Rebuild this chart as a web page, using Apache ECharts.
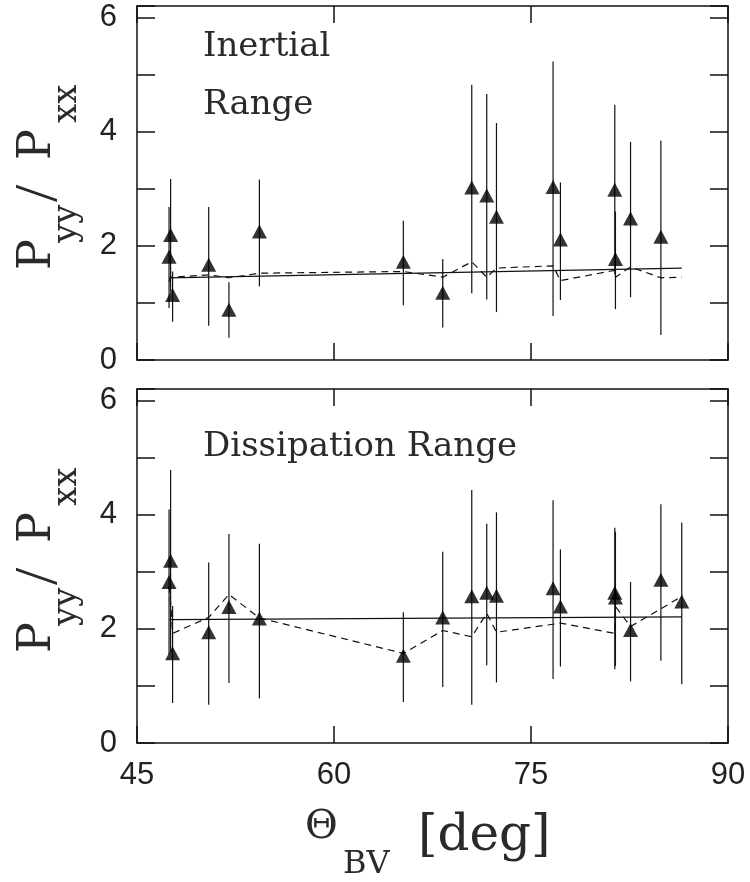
<!DOCTYPE html>
<html>
<head>
<meta charset="utf-8">
<script src="https://cdn.jsdelivr.net/npm/echarts@6/dist/echarts.min.js"></script>
<style>
  html, body { margin: 0; padding: 0; background: #fff; }
  #main { width: 750px; height: 882px; }
</style>
</head>
<body>
<div id="main"></div>
<script>
// angle between B and V (deg)
var thetaTop = [47.44, 47.56, 47.71, 50.46, 52.0, 54.32, 65.28, 68.28, 70.49, 71.63, 72.37, 76.68, 77.24, 81.38, 81.43, 82.58, 84.89];
var ratioTop = [1.81, 2.19, 1.14, 1.67, 0.88, 2.25, 1.72, 1.18, 3.02, 2.88, 2.51, 3.03, 2.11, 2.98, 1.77, 2.48, 2.16];
var hiTop = [2.68, 3.17, 1.55, 2.68, 1.36, 3.16, 2.44, 1.77, 4.82, 4.66, 4.15, 5.23, 3.11, 4.47, 2.60, 3.82, 3.84];
var loTop = [0.91, 1.20, 0.67, 0.60, 0.39, 1.29, 0.96, 0.57, 1.17, 1.06, 0.84, 0.77, 1.05, 1.50, 0.89, 1.10, 0.44];

var thetaBot = [47.44, 47.56, 47.71, 50.46, 52.0, 54.32, 65.28, 68.28, 70.49, 71.63, 72.37, 76.68, 77.24, 81.38, 81.43, 82.58, 84.89, 86.48];
var ratioBot = [2.82, 3.19, 1.57, 1.94, 2.38, 2.18, 1.53, 2.20, 2.57, 2.63, 2.58, 2.71, 2.39, 2.63, 2.55, 1.98, 2.86, 2.48];
var hiBot = [4.09, 4.78, 2.40, 3.16, 3.66, 3.49, 2.29, 3.35, 4.43, 3.84, 4.04, 4.25, 3.39, 3.77, 3.70, 2.82, 4.18, 3.86];
var loBot = [1.55, 1.60, 0.70, 0.67, 1.05, 0.78, 0.72, 0.98, 0.67, 1.36, 1.06, 1.12, 1.34, 1.29, 1.35, 1.08, 1.44, 1.03];

// model curves (dashed) and fits (solid)
var modelTheta = [47.44, 47.56, 47.71, 50.46, 52.0, 54.32, 65.28, 68.28, 70.49, 71.63, 72.37, 76.68, 77.24, 81.38, 81.43, 82.58, 84.89, 86.48];
var modelTop = [1.37, 1.45, 1.48, 1.49, 1.44, 1.52, 1.55, 1.45, 1.72, 1.45, 1.61, 1.65, 1.39, 1.57, 1.45, 1.63, 1.44, 1.45];
var modelBot = [2.75, 2.45, 1.92, 2.20, 2.60, 2.19, 1.57, 1.97, 1.86, 2.27, 1.94, 2.08, 2.10, 1.92, 2.39, 2.04, 2.35, 2.57];
var fitTheta = [47.46, 86.48];
var fitTop = [1.44, 1.61];
var fitBot = [2.16, 2.21];

var xTicks = [45, 60, 75, 90];
var yTicks = [0, 2, 4, 6];

var chart = echarts.init(document.getElementById('main'));

function zip(a, b) {
  return a.map(function (v, i) { return [v, b[i]]; });
}

var ink = '#111';
var labelFont = 'Liberation Sans';
var serif = 'DejaVu Serif';
var textColor = '#2a2a2a';

function xAx(grid, pos, showLabel) {
  return {
    type: 'value', gridIndex: grid, position: pos,
    min: xTicks[0], max: xTicks[xTicks.length - 1], interval: 15,
    axisLine: { onZero: false, lineStyle: { color: ink, width: 1.5 } },
    axisTick: { inside: true, length: 17, lineStyle: { color: ink, width: 1.5 } },
    axisLabel: { show: showLabel, margin: 17, fontFamily: labelFont, fontSize: 31, color: '#222' },
    splitLine: { show: false }
  };
}

function yAx(grid, pos, showLabel) {
  return {
    type: 'value', gridIndex: grid, position: pos,
    min: 0, max: 6.2, interval: 1,
    axisLine: { onZero: false, lineStyle: { color: ink, width: 1.5 } },
    axisTick: { inside: true, length: 18, lineStyle: { color: ink, width: 1.5 } },
    axisLabel: {
      show: showLabel, margin: 20, fontFamily: labelFont, fontSize: 31, color: '#222',
      formatter: function (v) { return yTicks.indexOf(v) >= 0 ? String(v) : ''; }
    },
    splitLine: { show: false }
  };
}

function errBars(x, lo, hi, ax) {
  return {
    type: 'custom', xAxisIndex: ax, yAxisIndex: ax,
    data: x.map(function (t, i) { return [t, lo[i], hi[i]]; }),
    encode: { x: 0, y: [1, 2] },
    renderItem: function (params, api) {
      var a = api.coord([api.value(0), api.value(1)]);
      var b = api.coord([api.value(0), api.value(2)]);
      return {
        type: 'line',
        shape: { x1: a[0], y1: a[1], x2: b[0], y2: b[1] },
        style: { stroke: ink, lineWidth: 1.2 }
      };
    },
    z: 2
  };
}

function points(x, y, ax) {
  return {
    type: 'scatter', xAxisIndex: ax, yAxisIndex: ax,
    data: zip(x, y), symbol: 'triangle', symbolSize: [15, 14],
    itemStyle: { color: '#000' }, z: 5
  };
}

function curve(x, y, ax, dashed) {
  return {
    type: 'line', xAxisIndex: ax, yAxisIndex: ax,
    data: zip(x, y), showSymbol: false, symbol: 'none',
    lineStyle: { color: ink, width: 1.2, type: dashed ? [7, 5] : 'solid' },
    z: 3
  };
}

// text at a baseline (middle-aligned box shifted up)
function txt(s, x, base, fs, font) {
  return {
    type: 'text', x: x, y: base - 0.32 * fs,
    style: { text: s, fontFamily: font || serif, fontSize: fs, fill: textColor, align: 'left', verticalAlign: 'middle' }
  };
}

function yTitle(yBase) {
  return {
    type: 'group', x: 53, y: yBase, rotation: Math.PI / 2,
    children: [
      txt('P', 0, 0, 46),
      txt('yy', 27, 25, 34),
      txt('/', 68, 7, 62, 'Liberation Serif'),
      txt('P', 110, 0, 46),
      txt('xx', 147, 25, 34)
    ]
  };
}

var option = {
  animation: false,
  backgroundColor: '#fff',
  grid: [
    { left: 137, right: 22, top: 6, height: 354 },
    { left: 137, right: 22, top: 389, height: 354 }
  ],
  xAxis: [xAx(0, 'bottom', false), xAx(0, 'top', false), xAx(1, 'bottom', true), xAx(1, 'top', false)],
  yAxis: [yAx(0, 'left', true), yAx(0, 'right', false), yAx(1, 'left', true), yAx(1, 'right', false)],
  series: [
    errBars(thetaTop, loTop, hiTop, 0),
    curve(fitTheta, fitTop, 0, false),
    curve(modelTheta, modelTop, 0, true),
    points(thetaTop, ratioTop, 0),
    errBars(thetaBot, loBot, hiBot, 2),
    curve(fitTheta, fitBot, 2, false),
    curve(modelTheta, modelBot, 2, true),
    points(thetaBot, ratioBot, 2)
  ],
  graphic: [
    txt('Inertial', 203, 58, 34),
    txt('Range', 203, 116, 34),
    txt('Dissipation Range', 203, 458, 34),
    yTitle(270),
    yTitle(653),
    txt('\u0398', 305, 840, 40),
    txt('BV', 343, 875, 32),
    txt('[deg]', 418, 853, 50)
  ]
};

chart.setOption(option);
</script>
</body>
</html>
